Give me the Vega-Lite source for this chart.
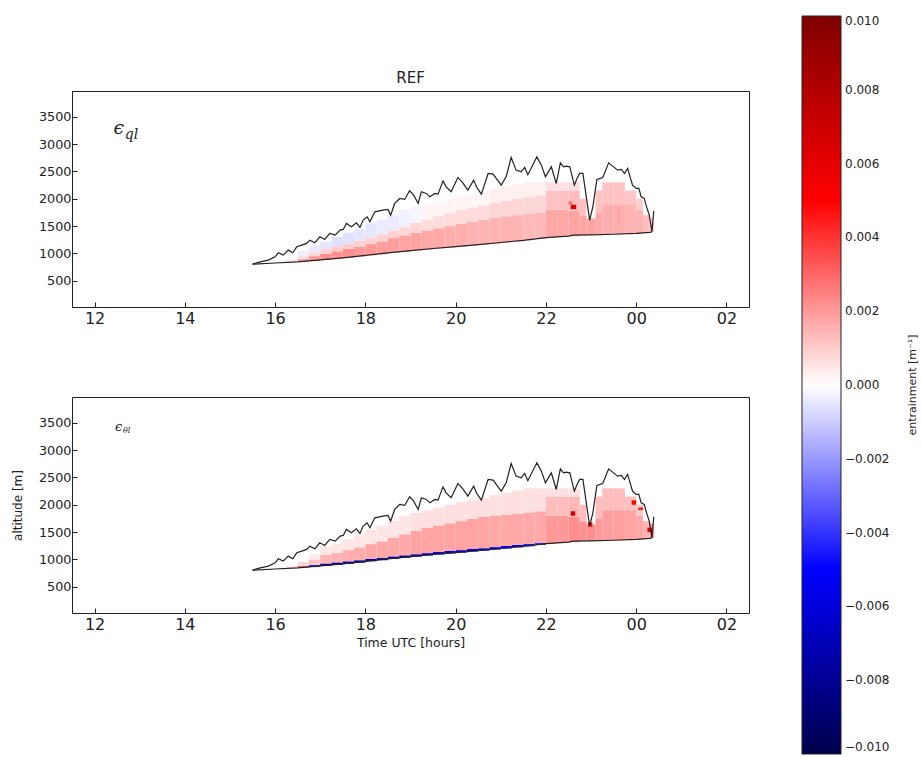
{
"$schema": "https://vega.github.io/schema/vega-lite/v6.json",
"padding": {"left": 10, "top": 16, "right": 0, "bottom": 0},
"bounds": "flush",
"spacing": 90,
"background": "white",
"config": {
  "font": "DejaVu Sans",
  "view": {"stroke": "#222", "strokeWidth": 1},
  "axis": {"grid": false, "domain": false, "tickColor": "#222", "tickSize": -5, "labelColor": "#222", "titleColor": "#222", "titleFontWeight": "normal", "labelFont": "DejaVu Sans", "titleFont": "DejaVu Sans"},
  "axisX": {"labelFontSize": 16, "labelPadding": 8, "titleFontSize": 12.5, "titlePadding": 4},
  "axisY": {"labelFontSize": 12.8, "labelPadding": 6, "titleFontSize": 12, "titlePadding": 14, "format": "d"},
  "title": {"fontSize": 15, "fontWeight": "normal", "font": "DejaVu Sans", "offset": 5, "color": "#222"},
  "legend": {"padding": 0}
},
"datasets": {
  "lines": [
    {"s":"top","t":15.5,"z":804},{"s":"top","t":15.67,"z":846},{"s":"top","t":15.85,"z":877},{"s":"top","t":16.0,"z":938},{"s":"top","t":16.07,"z":1011},{"s":"top","t":16.18,"z":969},{"s":"top","t":16.29,"z":1060},{"s":"top","t":16.39,"z":1011},{"s":"top","t":16.48,"z":1121},{"s":"top","t":16.59,"z":1152},{"s":"top","t":16.7,"z":1183},{"s":"top","t":16.77,"z":1243},{"s":"top","t":16.88,"z":1194},{"s":"top","t":16.99,"z":1304},{"s":"top","t":17.1,"z":1256},{"s":"top","t":17.21,"z":1365},{"s":"top","t":17.33,"z":1334},{"s":"top","t":17.44,"z":1426},{"s":"top","t":17.51,"z":1438},{"s":"top","t":17.58,"z":1548},{"s":"top","t":17.69,"z":1486},{"s":"top","t":17.8,"z":1560},{"s":"top","t":17.88,"z":1475},{"s":"top","t":17.95,"z":1609},{"s":"top","t":18.04,"z":1669},{"s":"top","t":18.1,"z":1578},{"s":"top","t":18.21,"z":1761},{"s":"top","t":18.39,"z":1791},{"s":"top","t":18.5,"z":1804},{"s":"top","t":18.56,"z":1700},{"s":"top","t":18.65,"z":1914},{"s":"top","t":18.76,"z":2005},{"s":"top","t":18.87,"z":1987},{"s":"top","t":18.98,"z":2145},{"s":"top","t":19.07,"z":2066},{"s":"top","t":19.17,"z":1914},{"s":"top","t":19.24,"z":2127},{"s":"top","t":19.35,"z":2097},{"s":"top","t":19.43,"z":2035},{"s":"top","t":19.54,"z":2097},{"s":"top","t":19.61,"z":2084},{"s":"top","t":19.72,"z":2327},{"s":"top","t":19.79,"z":2218},{"s":"top","t":19.9,"z":2127},{"s":"top","t":20.05,"z":2389},{"s":"top","t":20.16,"z":2291},{"s":"top","t":20.27,"z":2157},{"s":"top","t":20.4,"z":2340},{"s":"top","t":20.46,"z":2218},{"s":"top","t":20.57,"z":2084},{"s":"top","t":20.72,"z":2462},{"s":"top","t":20.83,"z":2450},{"s":"top","t":21.01,"z":2248},{"s":"top","t":21.12,"z":2400},{"s":"top","t":21.23,"z":2755},{"s":"top","t":21.34,"z":2523},{"s":"top","t":21.45,"z":2492},{"s":"top","t":21.53,"z":2572},{"s":"top","t":21.6,"z":2440},{"s":"top","t":21.8,"z":2766},{"s":"top","t":21.9,"z":2614},{"s":"top","t":21.99,"z":2400},{"s":"top","t":22.12,"z":2583},{"s":"top","t":22.23,"z":2279},{"s":"top","t":22.32,"z":2656},{"s":"top","t":22.39,"z":2583},{"s":"top","t":22.45,"z":2596},{"s":"top","t":22.53,"z":2583},{"s":"top","t":22.63,"z":2248},{"s":"top","t":22.69,"z":2371},{"s":"top","t":22.75,"z":2462},{"s":"top","t":22.82,"z":2462},{"s":"top","t":22.97,"z":1609},{"s":"top","t":23.04,"z":1852},{"s":"top","t":23.13,"z":2353},{"s":"top","t":23.26,"z":2389},{"s":"top","t":23.39,"z":2656},{"s":"top","t":23.5,"z":2583},{"s":"top","t":23.59,"z":2523},{"s":"top","t":23.67,"z":2535},{"s":"top","t":23.74,"z":2462},{"s":"top","t":23.81,"z":2554},{"s":"top","t":23.92,"z":2248},{"s":"top","t":24.0,"z":2188},{"s":"top","t":24.06,"z":2188},{"s":"top","t":24.11,"z":2035},{"s":"top","t":24.18,"z":2005},{"s":"top","t":24.23,"z":1852},{"s":"top","t":24.29,"z":1700},{"s":"top","t":24.33,"z":1500},{"s":"top","t":24.35,"z":1395},{"s":"top","t":24.39,"z":1780},
    {"s":"base","t":15.5,"z":804},{"s":"base","t":16.0,"z":825},{"s":"base","t":16.5,"z":845},{"s":"base","t":17.0,"z":880},{"s":"base","t":17.5,"z":920},{"s":"base","t":18.0,"z":965},{"s":"base","t":18.5,"z":1010},{"s":"base","t":19.0,"z":1050},{"s":"base","t":19.5,"z":1090},{"s":"base","t":20.0,"z":1125},{"s":"base","t":20.5,"z":1160},{"s":"base","t":21.0,"z":1200},{"s":"base","t":21.5,"z":1240},{"s":"base","t":22.0,"z":1290},{"s":"base","t":22.5,"z":1315},{"s":"base","t":22.6,"z":1335},{"s":"base","t":23.0,"z":1340},{"s":"base","t":23.5,"z":1350},{"s":"base","t":24.0,"z":1365},{"s":"base","t":24.3,"z":1385},{"s":"base","t":24.35,"z":1395}
  ],
  "cells": [
    {"p":"q","t":16.25,"t2":16.5,"z":835,"z2":880,"v":0.0006},
    {"p":"q","t":16.5,"t2":16.75,"z":845,"z2":900,"v":0.0018},{"p":"q","t":16.5,"t2":16.75,"z":900,"z2":960,"v":0.0006},{"p":"q","t":16.5,"t2":16.75,"z":960,"z2":1040,"v":-0.0003},
    {"p":"q","t":16.75,"t2":17.0,"z":860,"z2":950,"v":0.002},{"p":"q","t":16.75,"t2":17.0,"z":950,"z2":1020,"v":0.0008},{"p":"q","t":16.75,"t2":17.0,"z":1020,"z2":1140,"v":-0.0004},
    {"p":"q","t":17.0,"t2":17.25,"z":880,"z2":990,"v":0.0022},{"p":"q","t":17.0,"t2":17.25,"z":990,"z2":1080,"v":0.0009},{"p":"q","t":17.0,"t2":17.25,"z":1080,"z2":1220,"v":-0.0005},
    {"p":"q","t":17.25,"t2":17.5,"z":900,"z2":1040,"v":0.0022},{"p":"q","t":17.25,"t2":17.5,"z":1040,"z2":1130,"v":0.001},{"p":"q","t":17.25,"t2":17.5,"z":1130,"z2":1300,"v":-0.0006},
    {"p":"q","t":17.5,"t2":17.75,"z":920,"z2":1080,"v":0.0022},{"p":"q","t":17.5,"t2":17.75,"z":1080,"z2":1180,"v":0.001},{"p":"q","t":17.5,"t2":17.75,"z":1180,"z2":1380,"v":-0.0006},
    {"p":"q","t":17.75,"t2":18.0,"z":940,"z2":1120,"v":0.002},{"p":"q","t":17.75,"t2":18.0,"z":1120,"z2":1230,"v":0.0009},{"p":"q","t":17.75,"t2":18.0,"z":1230,"z2":1450,"v":-0.0005},
    {"p":"q","t":18.0,"t2":18.25,"z":965,"z2":1170,"v":0.002},{"p":"q","t":18.0,"t2":18.25,"z":1170,"z2":1290,"v":0.0009},{"p":"q","t":18.0,"t2":18.25,"z":1290,"z2":1550,"v":-0.0005},
    {"p":"q","t":18.25,"t2":18.5,"z":985,"z2":1220,"v":0.0019},{"p":"q","t":18.25,"t2":18.5,"z":1220,"z2":1350,"v":0.0009},{"p":"q","t":18.25,"t2":18.5,"z":1350,"z2":1620,"v":-0.0004},
    {"p":"q","t":18.5,"t2":18.75,"z":1010,"z2":1280,"v":0.0019},{"p":"q","t":18.5,"t2":18.75,"z":1280,"z2":1420,"v":0.0009},{"p":"q","t":18.5,"t2":18.75,"z":1420,"z2":1700,"v":-0.0004},
    {"p":"q","t":18.75,"t2":19.0,"z":1030,"z2":1330,"v":0.0018},{"p":"q","t":18.75,"t2":19.0,"z":1330,"z2":1480,"v":0.0008},{"p":"q","t":18.75,"t2":19.0,"z":1480,"z2":1800,"v":-0.0003},
    {"p":"q","t":19.0,"t2":19.25,"z":1050,"z2":1380,"v":0.0018},{"p":"q","t":19.0,"t2":19.25,"z":1380,"z2":1560,"v":0.0008},{"p":"q","t":19.0,"t2":19.25,"z":1560,"z2":1850,"v":-0.0002},
    {"p":"q","t":19.25,"t2":19.5,"z":1070,"z2":1420,"v":0.0017},{"p":"q","t":19.25,"t2":19.5,"z":1420,"z2":1620,"v":0.0007},{"p":"q","t":19.25,"t2":19.5,"z":1620,"z2":1900,"v":0.0002},
    {"p":"q","t":19.5,"t2":19.75,"z":1090,"z2":1460,"v":0.0017},{"p":"q","t":19.5,"t2":19.75,"z":1460,"z2":1680,"v":0.0007},{"p":"q","t":19.5,"t2":19.75,"z":1680,"z2":1950,"v":0.0002},
    {"p":"q","t":19.75,"t2":20.0,"z":1110,"z2":1500,"v":0.0016},{"p":"q","t":19.75,"t2":20.0,"z":1500,"z2":1740,"v":0.0007},{"p":"q","t":19.75,"t2":20.0,"z":1740,"z2":2000,"v":0.0002},
    {"p":"q","t":20.0,"t2":20.25,"z":1125,"z2":1540,"v":0.0016},{"p":"q","t":20.0,"t2":20.25,"z":1540,"z2":1800,"v":0.0007},{"p":"q","t":20.0,"t2":20.25,"z":1800,"z2":2050,"v":0.0002},
    {"p":"q","t":20.25,"t2":20.5,"z":1145,"z2":1580,"v":0.0015},{"p":"q","t":20.25,"t2":20.5,"z":1580,"z2":1840,"v":0.0007},{"p":"q","t":20.25,"t2":20.5,"z":1840,"z2":2080,"v":0.0002},
    {"p":"q","t":20.5,"t2":20.75,"z":1160,"z2":1620,"v":0.0015},{"p":"q","t":20.5,"t2":20.75,"z":1620,"z2":1880,"v":0.0007},{"p":"q","t":20.5,"t2":20.75,"z":1880,"z2":2120,"v":0.0002},
    {"p":"q","t":20.75,"t2":21.0,"z":1180,"z2":1650,"v":0.0015},{"p":"q","t":20.75,"t2":21.0,"z":1650,"z2":1920,"v":0.0008},{"p":"q","t":20.75,"t2":21.0,"z":1920,"z2":2180,"v":0.0003},
    {"p":"q","t":21.0,"t2":21.25,"z":1200,"z2":1680,"v":0.0015},{"p":"q","t":21.0,"t2":21.25,"z":1680,"z2":1960,"v":0.0008},{"p":"q","t":21.0,"t2":21.25,"z":1960,"z2":2220,"v":0.0003},
    {"p":"q","t":21.25,"t2":21.5,"z":1220,"z2":1700,"v":0.0015},{"p":"q","t":21.25,"t2":21.5,"z":1700,"z2":2000,"v":0.0008},{"p":"q","t":21.25,"t2":21.5,"z":2000,"z2":2260,"v":0.0003},
    {"p":"q","t":21.5,"t2":21.75,"z":1240,"z2":1720,"v":0.0014},{"p":"q","t":21.5,"t2":21.75,"z":1720,"z2":2030,"v":0.0008},{"p":"q","t":21.5,"t2":21.75,"z":2030,"z2":2300,"v":0.0003},
    {"p":"q","t":21.75,"t2":22.0,"z":1265,"z2":1740,"v":0.0014},{"p":"q","t":21.75,"t2":22.0,"z":1740,"z2":2060,"v":0.0008},{"p":"q","t":21.75,"t2":22.0,"z":2060,"z2":2300,"v":0.0003},
    {"p":"q","t":22.0,"t2":22.25,"z":1290,"z2":1800,"v":0.0017},{"p":"q","t":22.0,"t2":22.25,"z":1800,"z2":2150,"v":0.0012},{"p":"q","t":22.0,"t2":22.25,"z":2150,"z2":2300,"v":0.0006},
    {"p":"q","t":22.25,"t2":22.5,"z":1300,"z2":1800,"v":0.0017},{"p":"q","t":22.25,"t2":22.5,"z":1800,"z2":2150,"v":0.0012},{"p":"q","t":22.25,"t2":22.5,"z":2150,"z2":2300,"v":0.0006},
    {"p":"q","t":22.5,"t2":22.75,"z":1315,"z2":1780,"v":0.0018},{"p":"q","t":22.5,"t2":22.75,"z":1780,"z2":2150,"v":0.0013},{"p":"q","t":22.5,"t2":22.75,"z":2150,"z2":2300,"v":0.0006},
    {"p":"q","t":22.75,"t2":22.9,"z":1335,"z2":1700,"v":0.0018},{"p":"q","t":22.75,"t2":22.9,"z":1700,"z2":2000,"v":0.0012},
    {"p":"q","t":22.9,"t2":23.1,"z":1338,"z2":1640,"v":0.0018},
    {"p":"q","t":23.1,"t2":23.25,"z":1342,"z2":1750,"v":0.0017},{"p":"q","t":23.1,"t2":23.25,"z":1750,"z2":2150,"v":0.0012},
    {"p":"q","t":23.25,"t2":23.5,"z":1345,"z2":1900,"v":0.0016},{"p":"q","t":23.25,"t2":23.5,"z":1900,"z2":2300,"v":0.0012},
    {"p":"q","t":23.5,"t2":23.75,"z":1350,"z2":1900,"v":0.0016},{"p":"q","t":23.5,"t2":23.75,"z":1900,"z2":2300,"v":0.0012},
    {"p":"q","t":23.75,"t2":24.0,"z":1358,"z2":1900,"v":0.0015},{"p":"q","t":23.75,"t2":24.0,"z":1900,"z2":2150,"v":0.0011},
    {"p":"q","t":24.0,"t2":24.15,"z":1365,"z2":1800,"v":0.0015},{"p":"q","t":24.0,"t2":24.15,"z":1800,"z2":2000,"v":0.001},
    {"p":"q","t":24.15,"t2":24.3,"z":1380,"z2":1700,"v":0.0013},
    {"p":"q","t":24.3,"t2":24.4,"z":1390,"z2":1650,"v":0.001},
    {"p":"q","t":22.55,"t2":22.67,"z":1810,"z2":1890,"v":0.0065},{"p":"q","t":22.5,"t2":22.58,"z":1890,"z2":1950,"v":0.003},
    {"p":"t","t":16.25,"t2":16.5,"z":835,"z2":870,"v":0.0008},
    {"p":"t","t":16.5,"t2":16.75,"z":845,"z2":880,"v":0.003},{"p":"t","t":16.5,"t2":16.75,"z":880,"z2":950,"v":0.0008},
    {"p":"t","t":16.75,"t2":17.0,"z":860,"z2":900,"v":-0.004},{"p":"t","t":16.75,"t2":17.0,"z":900,"z2":1000,"v":0.0012},{"p":"t","t":16.75,"t2":17.0,"z":1000,"z2":1100,"v":0.0004},
    {"p":"t","t":17.0,"t2":17.25,"z":880,"z2":925,"v":-0.007},{"p":"t","t":17.0,"t2":17.25,"z":925,"z2":1080,"v":0.0015},{"p":"t","t":17.0,"t2":17.25,"z":1080,"z2":1230,"v":0.0005},
    {"p":"t","t":17.25,"t2":17.5,"z":900,"z2":945,"v":-0.007},{"p":"t","t":17.25,"t2":17.5,"z":945,"z2":1120,"v":0.0015},{"p":"t","t":17.25,"t2":17.5,"z":1120,"z2":1290,"v":0.0005},
    {"p":"t","t":17.5,"t2":17.75,"z":920,"z2":965,"v":-0.007},{"p":"t","t":17.5,"t2":17.75,"z":965,"z2":1170,"v":0.0016},{"p":"t","t":17.5,"t2":17.75,"z":1170,"z2":1370,"v":0.0005},
    {"p":"t","t":17.75,"t2":18.0,"z":940,"z2":985,"v":-0.007},{"p":"t","t":17.75,"t2":18.0,"z":985,"z2":1220,"v":0.0016},{"p":"t","t":17.75,"t2":18.0,"z":1220,"z2":1440,"v":0.0005},
    {"p":"t","t":18.0,"t2":18.25,"z":965,"z2":1010,"v":-0.007},{"p":"t","t":18.0,"t2":18.25,"z":1010,"z2":1280,"v":0.0017},{"p":"t","t":18.0,"t2":18.25,"z":1280,"z2":1540,"v":0.0005},
    {"p":"t","t":18.25,"t2":18.5,"z":985,"z2":1030,"v":-0.007},{"p":"t","t":18.25,"t2":18.5,"z":1030,"z2":1330,"v":0.0017},{"p":"t","t":18.25,"t2":18.5,"z":1330,"z2":1620,"v":0.0005},
    {"p":"t","t":18.5,"t2":18.75,"z":1010,"z2":1055,"v":-0.007},{"p":"t","t":18.5,"t2":18.75,"z":1055,"z2":1400,"v":0.0017},{"p":"t","t":18.5,"t2":18.75,"z":1400,"z2":1700,"v":0.0005},
    {"p":"t","t":18.75,"t2":19.0,"z":1030,"z2":1075,"v":-0.007},{"p":"t","t":18.75,"t2":19.0,"z":1075,"z2":1460,"v":0.0017},{"p":"t","t":18.75,"t2":19.0,"z":1460,"z2":1800,"v":0.0005},
    {"p":"t","t":19.0,"t2":19.25,"z":1050,"z2":1095,"v":-0.0065},{"p":"t","t":19.0,"t2":19.25,"z":1095,"z2":1520,"v":0.0018},{"p":"t","t":19.0,"t2":19.25,"z":1520,"z2":1850,"v":0.0006},
    {"p":"t","t":19.25,"t2":19.5,"z":1070,"z2":1115,"v":-0.0065},{"p":"t","t":19.25,"t2":19.5,"z":1115,"z2":1580,"v":0.0018},{"p":"t","t":19.25,"t2":19.5,"z":1580,"z2":1900,"v":0.0006},
    {"p":"t","t":19.5,"t2":19.75,"z":1090,"z2":1135,"v":-0.0065},{"p":"t","t":19.5,"t2":19.75,"z":1135,"z2":1620,"v":0.0018},{"p":"t","t":19.5,"t2":19.75,"z":1620,"z2":1950,"v":0.0006},
    {"p":"t","t":19.75,"t2":20.0,"z":1110,"z2":1155,"v":-0.006},{"p":"t","t":19.75,"t2":20.0,"z":1155,"z2":1660,"v":0.0018},{"p":"t","t":19.75,"t2":20.0,"z":1660,"z2":2000,"v":0.0006},
    {"p":"t","t":20.0,"t2":20.25,"z":1125,"z2":1170,"v":-0.006},{"p":"t","t":20.0,"t2":20.25,"z":1170,"z2":1700,"v":0.0018},{"p":"t","t":20.0,"t2":20.25,"z":1700,"z2":2050,"v":0.0006},
    {"p":"t","t":20.25,"t2":20.5,"z":1145,"z2":1190,"v":-0.006},{"p":"t","t":20.25,"t2":20.5,"z":1190,"z2":1740,"v":0.0018},{"p":"t","t":20.25,"t2":20.5,"z":1740,"z2":2080,"v":0.0006},
    {"p":"t","t":20.5,"t2":20.75,"z":1160,"z2":1205,"v":-0.006},{"p":"t","t":20.5,"t2":20.75,"z":1205,"z2":1780,"v":0.0018},{"p":"t","t":20.5,"t2":20.75,"z":1780,"z2":2120,"v":0.0006},
    {"p":"t","t":20.75,"t2":21.0,"z":1180,"z2":1225,"v":-0.0055},{"p":"t","t":20.75,"t2":21.0,"z":1225,"z2":1800,"v":0.0017},{"p":"t","t":20.75,"t2":21.0,"z":1800,"z2":2180,"v":0.0006},
    {"p":"t","t":21.0,"t2":21.25,"z":1200,"z2":1245,"v":-0.005},{"p":"t","t":21.0,"t2":21.25,"z":1245,"z2":1820,"v":0.0017},{"p":"t","t":21.0,"t2":21.25,"z":1820,"z2":2220,"v":0.0006},
    {"p":"t","t":21.25,"t2":21.5,"z":1220,"z2":1265,"v":-0.005},{"p":"t","t":21.25,"t2":21.5,"z":1265,"z2":1840,"v":0.0017},{"p":"t","t":21.25,"t2":21.5,"z":1840,"z2":2260,"v":0.0006},
    {"p":"t","t":21.5,"t2":21.75,"z":1240,"z2":1285,"v":-0.0045},{"p":"t","t":21.5,"t2":21.75,"z":1285,"z2":1860,"v":0.0017},{"p":"t","t":21.5,"t2":21.75,"z":1860,"z2":2300,"v":0.0006},
    {"p":"t","t":21.75,"t2":22.0,"z":1265,"z2":1305,"v":-0.004},{"p":"t","t":21.75,"t2":22.0,"z":1305,"z2":1880,"v":0.0017},{"p":"t","t":21.75,"t2":22.0,"z":1880,"z2":2300,"v":0.0006},
    {"p":"t","t":22.0,"t2":22.25,"z":1290,"z2":1800,"v":0.002},{"p":"t","t":22.0,"t2":22.25,"z":1800,"z2":2150,"v":0.0013},{"p":"t","t":22.0,"t2":22.25,"z":2150,"z2":2300,"v":0.0006},
    {"p":"t","t":22.25,"t2":22.5,"z":1300,"z2":1800,"v":0.002},{"p":"t","t":22.25,"t2":22.5,"z":1800,"z2":2150,"v":0.0013},{"p":"t","t":22.25,"t2":22.5,"z":2150,"z2":2300,"v":0.0006},
    {"p":"t","t":22.5,"t2":22.75,"z":1315,"z2":1780,"v":0.0022},{"p":"t","t":22.5,"t2":22.75,"z":1780,"z2":2150,"v":0.0014},{"p":"t","t":22.5,"t2":22.75,"z":2150,"z2":2300,"v":0.0006},
    {"p":"t","t":22.75,"t2":22.9,"z":1335,"z2":1700,"v":0.0022},{"p":"t","t":22.75,"t2":22.9,"z":1700,"z2":2000,"v":0.0013},
    {"p":"t","t":22.9,"t2":23.1,"z":1338,"z2":1640,"v":0.0022},
    {"p":"t","t":23.1,"t2":23.25,"z":1342,"z2":1750,"v":0.002},{"p":"t","t":23.1,"t2":23.25,"z":1750,"z2":2150,"v":0.0013},
    {"p":"t","t":23.25,"t2":23.5,"z":1345,"z2":1900,"v":0.0019},{"p":"t","t":23.25,"t2":23.5,"z":1900,"z2":2300,"v":0.0013},
    {"p":"t","t":23.5,"t2":23.75,"z":1350,"z2":1900,"v":0.0019},{"p":"t","t":23.5,"t2":23.75,"z":1900,"z2":2300,"v":0.0013},
    {"p":"t","t":23.75,"t2":24.0,"z":1358,"z2":1900,"v":0.0018},{"p":"t","t":23.75,"t2":24.0,"z":1900,"z2":2150,"v":0.0012},
    {"p":"t","t":24.0,"t2":24.15,"z":1365,"z2":1800,"v":0.0017},{"p":"t","t":24.0,"t2":24.15,"z":1800,"z2":2000,"v":0.0011},
    {"p":"t","t":24.15,"t2":24.3,"z":1380,"z2":1700,"v":0.0015},
    {"p":"t","t":24.3,"t2":24.4,"z":1390,"z2":1650,"v":0.002},
    {"p":"t","t":22.55,"t2":22.65,"z":1800,"z2":1880,"v":0.007},{"p":"t","t":22.93,"t2":23.03,"z":1600,"z2":1680,"v":0.005},{"p":"t","t":23.9,"t2":24.0,"z":2000,"z2":2080,"v":0.005},{"p":"t","t":24.25,"t2":24.35,"z":1500,"z2":1580,"v":0.006},{"p":"t","t":24.05,"t2":24.15,"z":1900,"z2":1950,"v":0.0045}
  ]
},
"resolve": {"scale": {"color": "shared"}, "legend": {"color": "shared"}},
"vconcat": [
  {
    "width": 677, "height": 216,
    "title": "REF",
    "encoding": {
      "x": {"field": "t", "type": "quantitative", "scale": {"domain": [11.5, 26.5], "nice": false, "zero": false},
            "axis": {"values": [12,14,16,18,20,22,24,26], "labelExpr": "datum.value >= 24 ? '0' + (datum.value - 24) : '' + datum.value", "title": null, "labelFlush": false}},
      "y": {"field": "z", "type": "quantitative", "scale": {"domain": [20, 3970], "nice": false, "zero": false},
            "axis": {"values": [500,1000,1500,2000,2500,3000,3500], "title": null}}
    },
    "layer": [
      {"data": {"name": "cells"}, "transform": [{"filter": "datum.p === 'q'"}],
       "mark": {"type": "rect"},
       "encoding": {
         "x2": {"field": "t2"}, "y2": {"field": "z2"},
         "color": {"field": "v", "type": "quantitative",
           "scale": {"domain": [-0.01, -0.005, 0, 0.005, 0.01], "range": ["#00004c", "#0000ff", "#ffffff", "#ff0000", "#7f0000"], "interpolate": "rgb"},
           "legend": {"type": "gradient", "orient": "none", "legendX": 730, "legendY": -75, "direction": "vertical", "gradientLength": 738, "gradientThickness": 39, "gradientStrokeColor": "#222", "gradientStrokeWidth": 1, "labelFontSize": 12, "labelColor": "#222", "labelOffset": 4, "labelBaseline": "middle", "labelOverlap": false, "values": [-0.01,-0.008,-0.006,-0.004,-0.002,0,0.002,0.004,0.006,0.008,0.01], "format": ".3f", "title": "entrainment [m⁻¹]", "titleOrient": "right", "titleFontSize": 11, "titleFontWeight": "normal", "titleColor": "#222", "titleAnchor": "middle", "titlePadding": 29,
             "encode": {"title": {"update": {"angle": {"value": 270}}}}}}
       }},
      {"data": {"name": "lines"}, "mark": {"type": "line", "color": "#222", "strokeWidth": 1.2}, "encoding": {"detail": {"field": "s"}}},
      {"data": {"values": [{"t": 12.42, "z": 3290, "s": "ϵ"}]}, "mark": {"type": "text", "align": "left", "baseline": "middle", "font": "DejaVu Serif", "fontStyle": "italic", "fontSize": 19, "color": "#222"}, "encoding": {"text": {"field": "s"}}},
      {"data": {"values": [{"t": 12.67, "z": 3170, "s": "ql"}]}, "mark": {"type": "text", "align": "left", "baseline": "middle", "font": "DejaVu Serif", "fontStyle": "italic", "fontSize": 14, "color": "#222"}, "encoding": {"text": {"field": "s"}}}
    ]
  },
  {
    "width": 677, "height": 216,
    "encoding": {
      "x": {"field": "t", "type": "quantitative", "scale": {"domain": [11.5, 26.5], "nice": false, "zero": false},
            "axis": {"values": [12,14,16,18,20,22,24,26], "labelExpr": "datum.value >= 24 ? '0' + (datum.value - 24) : '' + datum.value", "title": "Time UTC [hours]", "labelFlush": false}},
      "y": {"field": "z", "type": "quantitative", "scale": {"domain": [20, 3970], "nice": false, "zero": false},
            "axis": {"values": [500,1000,1500,2000,2500,3000,3500], "title": "altitude [m]"}}
    },
    "layer": [
      {"data": {"name": "cells"}, "transform": [{"filter": "datum.p === 't'"}],
       "mark": {"type": "rect"},
       "encoding": {
         "x2": {"field": "t2"}, "y2": {"field": "z2"},
         "color": {"field": "v", "type": "quantitative",
           "scale": {"domain": [-0.01, -0.005, 0, 0.005, 0.01], "range": ["#00004c", "#0000ff", "#ffffff", "#ff0000", "#7f0000"], "interpolate": "rgb"}}
       }},
      {"data": {"name": "lines"}, "mark": {"type": "line", "color": "#222", "strokeWidth": 1.2}, "encoding": {"detail": {"field": "s"}}},
      {"data": {"values": [{"t": 12.45, "z": 3430, "s": "ϵ"}]}, "mark": {"type": "text", "align": "left", "baseline": "middle", "font": "DejaVu Serif", "fontStyle": "italic", "fontSize": 13, "color": "#222"}, "encoding": {"text": {"field": "s"}}},
      {"data": {"values": [{"t": 12.63, "z": 3340, "s": "θl"}]}, "mark": {"type": "text", "align": "left", "baseline": "middle", "font": "DejaVu Serif", "fontStyle": "italic", "fontSize": 8, "color": "#222"}, "encoding": {"text": {"field": "s"}}}
    ]
  }
]
}
